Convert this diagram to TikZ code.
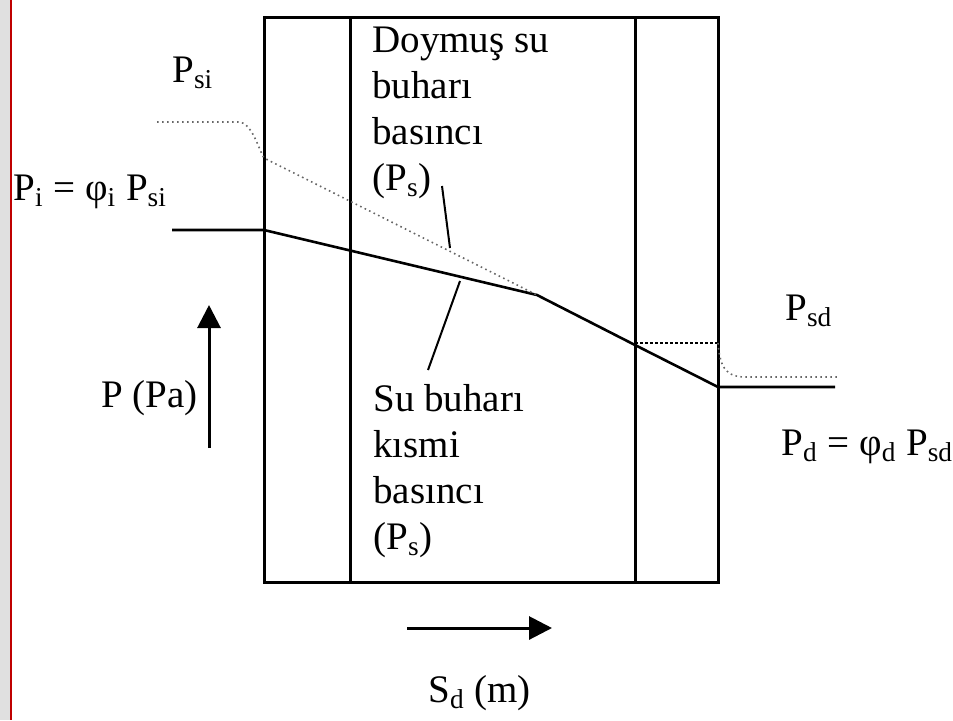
\documentclass[tikz,border=0pt]{standalone}
\usepackage{fontspec}
\setmainfont{Liberation Serif}
\usetikzlibrary{arrows.meta}
\tikzset{
  lbl/.style={font=\fontsize{19.5}{23}\selectfont, inner sep=0pt, anchor=base west},
  wall/.style={line width=1.5pt},
  vapline/.style={line width=1.3pt, line join=round},
  satline/.style={black!60, line width=0.8pt, dash pattern=on 0.8pt off 1.7pt},
  satdense/.style={black, line width=0.9pt, dash pattern=on 1.5pt off 1pt},
  leader/.style={line width=1pt},
  axisarrow/.style={line width=1.5pt, -{Triangle[length=11.5pt,width=11.5pt]}},
}
\begin{document}
\begin{tikzpicture}[x=0.5pt,y=-0.5pt]
\useasboundingbox (0,0) rectangle (953,720);
% page edge of the screenshot
\fill[black!12] (0,0) rectangle (10,720);
\draw[red!75!black, line width=1pt] (11,0) -- (11,720);

% wall layers
\draw[wall] (264,17) rectangle (718,582);
\draw[wall] (350,17) -- (350,582);
\draw[wall] (635,17) -- (635,582);

% points of the pressure lines
\coordinate (pin) at (172,230);
\coordinate (wallin) at (264,230);
\coordinate (knee) at (537,295);
\coordinate (mid) at (635,345);
\coordinate (wallout) at (718,387);
\coordinate (pout) at (835,387);

\coordinate (sin) at (157,122);
\coordinate (sbend) at (238,122);
\coordinate (swall) at (264,158);
\coordinate (smid) at (635,343);
\coordinate (soutwall) at (718,343);
\coordinate (sbend2) at (745,377);
\coordinate (sout) at (838,377);

% partial vapour pressure
\draw[vapline] (pin) -- (wallin) -- (knee) -- (mid) -- (wallout) -- (pout);

% saturation pressure
\draw[satline] (sin) -- (sbend) .. controls (252,122) and (258,148) .. (swall) -- (knee);
\draw[satdense] (smid) -- (soutwall);
\draw[satline] (soutwall) .. controls (720,370) and (728,377) .. (sbend2) -- (sout);

% labels (multi-line ones sit on their last baseline)
\node[lbl] (psi) at (172,82) {P\textsubscript{si}};
\node[lbl] (pi) at (13,200) {P\textsubscript{i} = φ\textsubscript{i} P\textsubscript{si}};
\node[lbl] (psd) at (785,320) {P\textsubscript{sd}};
\node[lbl] (pd) at (781,455) {P\textsubscript{d} = φ\textsubscript{d} P\textsubscript{sd}};
\node[lbl, align=left] (sat) at (372,190) {Doymuş su\\buharı\\basıncı\\(P\textsubscript{s})};
\node[lbl, align=left] (part) at (373,549) {Su buharı\\kısmi\\basıncı\\(P\textsubscript{s})};
\node[lbl] (paxis) at (101,407) {P (Pa)};
\node[lbl] (saxis) at (428,702) {S\textsubscript{d} (m)};

% leaders
\coordinate (satA) at (442,186);
\coordinate (satB) at (450,248);
\coordinate (partA) at (460,281);
\coordinate (partB) at (428,370);
\draw[leader] (satA) -- (satB);
\draw[leader] (partA) -- (partB);

% axis arrows
\coordinate (pfoot) at (209,448);
\coordinate (ptip) at (209,305);
\coordinate (sfoot) at (407,628);
\coordinate (stip) at (552,628);
\draw[axisarrow] (pfoot) -- (ptip);
\draw[axisarrow] (sfoot) -- (stip);
\end{tikzpicture}
\end{document}
